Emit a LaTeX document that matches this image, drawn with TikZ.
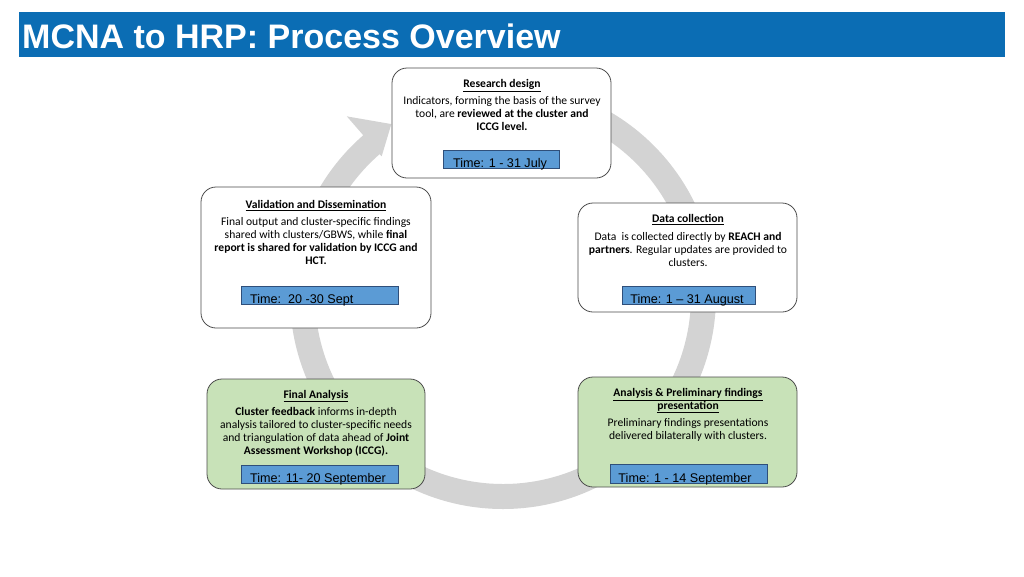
\documentclass[tikz,border=0pt]{standalone}
\usepackage{fontspec}
\setmainfont{Carlito}
\newfontfamily\arialf{Liberation Sans}
\definecolor{barblue}{HTML}{0B6DB4}
\definecolor{ringgray}{HTML}{D3D3D3}
\definecolor{stagegreen}{HTML}{C8E2B8}
\definecolor{timeblue}{HTML}{5B9BD5}
\definecolor{timeborder}{HTML}{2F4F7A}
\tikzset{
  stage/.style={draw=black!70, line width=0.8pt, rounded corners=15pt, fill=white},
  timebox/.style={draw=timeborder, fill=timeblue, line width=0.8pt},
  stitle/.style={font=\fontsize{11.6}{13}\selectfont\bfseries, align=center, inner sep=0pt, anchor=north},
  sbody/.style={font=\fontsize{11.6}{13}\selectfont, align=center, inner sep=0pt, anchor=north},
  ttext/.style={font=\arialf\fontsize{12.6}{14}\selectfont, inner sep=0pt, anchor=base},
}
\begin{document}
\begin{tikzpicture}[x=1pt,y=-1pt]
\useasboundingbox[fill=white] (0,0) rectangle (1024,576);
% title bar
\node[fill=barblue, minimum width=986pt, minimum height=45pt, inner sep=0pt, anchor=north west] (bar) at (19,12) {};
\node[font=\arialf\bfseries\fontsize{34}{38}\selectfont, text=white, inner sep=0pt, anchor=base west] (title) at (22,48) {MCNA to HRP: Process Overview};
% ring arrow
\begin{scope}[shift={(503,296)}, yscale=-1]
\fill[ringgray] (90:213) arc[start angle=90, end angle=-229, radius=213]
  -- (131:238) -- (123:205) -- (131:185) -- (131:188)
  arc[start angle=-229, end angle=90, radius=188] -- cycle;
\end{scope}
% stage 1: research design
\draw[stage] (392,68) rectangle (611,178);
\node[stitle] (t1) at (502,79) {\underline{Research design}};
\node[sbody] (b1) at (502,96) {Indicators, forming the basis of the survey\\ tool, are \textbf{reviewed at the cluster and}\\ \textbf{ICCG level.}};
\node[timebox, minimum width=116pt, minimum height=18pt, inner sep=0pt, anchor=north west] (tb1) at (443,150) {};
\node[ttext] (tt1) at (500,167) {Time: 1 - 31 July};
% stage 2: data collection
\draw[stage] (578,203) rectangle (797,312);
\node[stitle] (t2) at (688,214) {\underline{Data collection}};
\node[sbody] (b2) at (688,232) {Data\ \ is collected directly by \textbf{REACH and}\\ \textbf{partners}. Regular updates are provided to\\ clusters.};
\node[timebox, minimum width=133pt, minimum height=18pt, inner sep=0pt, anchor=north west] (tb2) at (622,286) {};
\node[ttext] (tt2) at (687,303) {Time: 1 – 31 August};
% stage 3: analysis & preliminary findings
\draw[stage, fill=stagegreen] (578,377) rectangle (797,487);
\node[stitle] (t3) at (688,388) {\underline{Analysis \& Preliminary findings}\\ \underline{presentation}};
\node[sbody] (b3) at (688,418) {Preliminary findings presentations\\ delivered bilaterally with clusters.};
\node[timebox, minimum width=157pt, minimum height=19pt, inner sep=0pt, anchor=north west] (tb3) at (610,464) {};
\node[ttext] (tt3) at (685,482) {Time: 1 - 14 September};
% stage 4: final analysis
\draw[stage, fill=stagegreen] (207,379) rectangle (425,489);
\node[stitle] (t4) at (316,390) {\underline{Final Analysis}};
\node[sbody] (b4) at (316,407) {\textbf{Cluster feedback} informs in-depth\\ analysis tailored to cluster-specific needs\\ and triangulation of data ahead of \textbf{Joint}\\ \textbf{Assessment Workshop (ICCG).}};
\node[timebox, minimum width=157pt, minimum height=18pt, inner sep=0pt, anchor=north west] (tb4) at (241,465) {};
\node[ttext] (tt4) at (318,482) {Time: 11- 20 September};
% stage 5: validation and dissemination
\draw[stage] (201,187) rectangle (431,328);
\node[stitle] (t5) at (316,200) {\underline{Validation and Dissemination}};
\node[sbody] (b5) at (316,217) {Final output and cluster-specific findings\\ shared with clusters/GBWS, while \textbf{final}\\ \textbf{report is shared for validation by ICCG and}\\ \textbf{HCT.}};
\node[timebox, minimum width=157pt, minimum height=18pt, inner sep=0pt, anchor=north west] (tb5) at (241,286) {};
\node[ttext, anchor=base west] (tt5) at (250,303) {Time:\ \ 20 -30 Sept};
\end{tikzpicture}
\end{document}
